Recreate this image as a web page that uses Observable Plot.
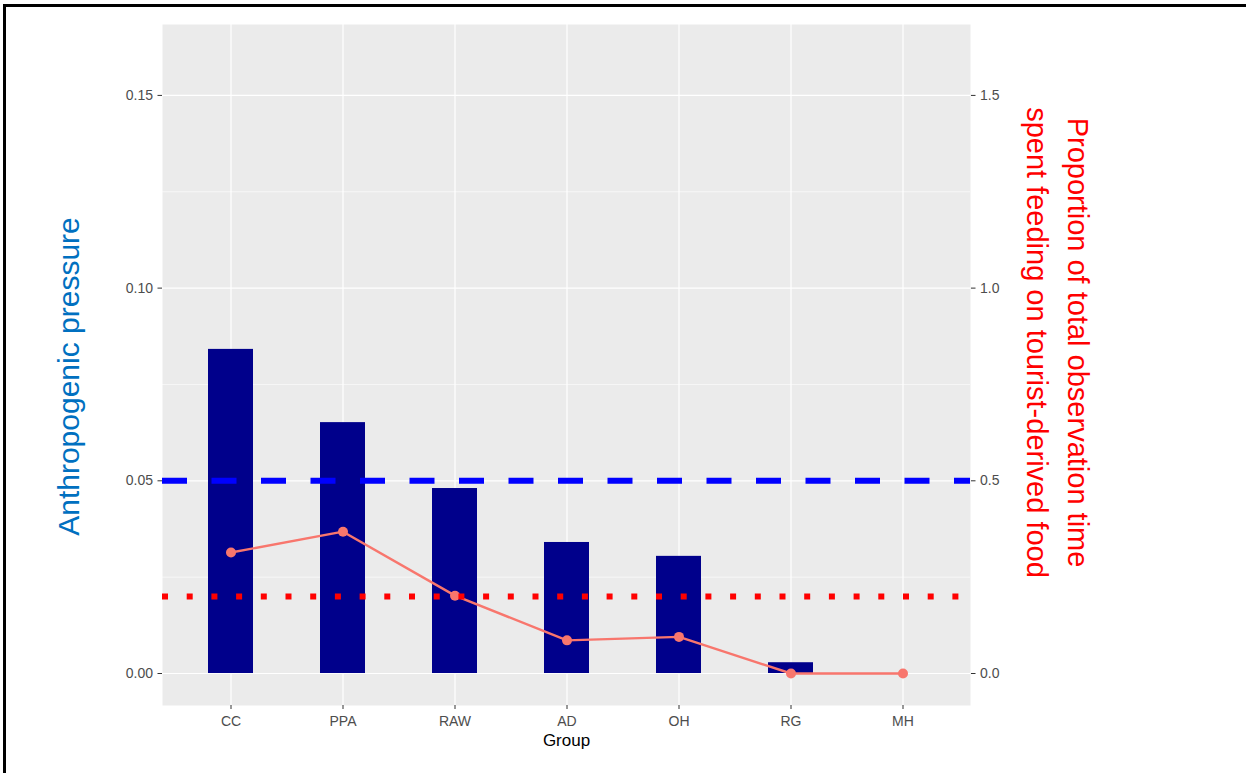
<!DOCTYPE html>
<html>
<head>
<meta charset="utf-8">
<script src="https://cdn.jsdelivr.net/npm/d3@7"></script>
<script src="https://cdn.jsdelivr.net/npm/@observablehq/plot@0.6"></script>
<style>
  html, body { margin: 0; padding: 0; background: white; overflow: hidden; }
  #wrap { position: relative; width: 1246px; height: 773px; }
  #wrap svg { position: absolute; left: 0; top: 0; }
  .frame-line { position: absolute; background: black; }
</style>
</head>
<body>
<div id="wrap"></div>
<script>
// ---- data ----
const groups = ["CC", "PPA", "RAW", "AD", "OH", "RG", "MH"];
const pressure = [0.0841, 0.0651, 0.0480, 0.0340, 0.0304, 0.0028, 0.0];      // left axis
const proportion = [0.314, 0.368, 0.202, 0.086, 0.095, 0.0, 0.0];           // right axis
const pressureThreshold = 0.05;
const proportionThreshold = 0.2;
const leftTicks = [0, 0.05, 0.10, 0.15];
const minorTicks = [0.025, 0.075, 0.125];
const axisRatio = 10; // right axis = left axis * 10
const leftTitle = "Anthropogenic pressure";
const rightTitle = "Proportion of total observation time\nspent feeding on tourist-derived food";
const xTitle = "Group";

const rows = groups.map((g, i) => ({group: g, pressure: pressure[i], proportion: proportion[i] / axisRatio}));

const font = "'Liberation Sans', Arial, sans-serif";

const chart = Plot.plot({
  width: 1246,
  height: 773,
  marginLeft: 162,
  marginRight: 276,
  marginTop: 24,
  marginBottom: 68,
  style: {background: "transparent", fontFamily: font, fontSize: "14px"},
  x: {type: "band", domain: groups, paddingInner: 0.6, paddingOuter: 0.4, axis: null},
  y: {domain: [-0.0083, 0.1684], axis: null},
  marks: [
    Plot.frame({fill: "#EBEBEB", stroke: "none"}),
    Plot.ruleY(minorTicks, {stroke: "white", strokeWidth: 0.6}),
    Plot.ruleY(leftTicks, {stroke: "white", strokeWidth: 1.2}),
    Plot.gridX({stroke: "white", strokeOpacity: 1, strokeWidth: 1.2}),
    Plot.barY(rows, {x: "group", y: "pressure", fill: "#00008B"}),
    Plot.line(rows, {x: "group", y: "proportion", stroke: "#F8766D", strokeWidth: 2.4}),
    Plot.dot(rows, {x: "group", y: "proportion", fill: "#F8766D", r: 5}),
    Plot.ruleY([proportionThreshold / axisRatio], {stroke: "#FF0000", strokeWidth: 6, strokeDasharray: "6,18.7"}),
    Plot.ruleY([pressureThreshold], {stroke: "#0000FF", strokeWidth: 6, strokeDasharray: "25,24.5"}),
    Plot.axisY(leftTicks, {anchor: "left", tickFormat: d3.format(".2f"), tickSize: 4.5, tickPadding: 5, stroke: "#333333", fill: "#4D4D4D", label: null, fontSize: 14}),
    Plot.axisY(leftTicks, {anchor: "right", tickFormat: d => (d * axisRatio).toFixed(1), tickSize: 4.5, tickPadding: 5, stroke: "#333333", fill: "#4D4D4D", label: null, fontSize: 14}),
    Plot.axisX({anchor: "bottom", tickSize: 4, tickPadding: 7, stroke: "#333333", fill: "#4D4D4D", label: null, fontSize: 14}),
    Plot.text([xTitle], {frameAnchor: "bottom", dy: 35, lineAnchor: "middle", textAnchor: "middle", fill: "black", fontSize: 17}),
    Plot.text([leftTitle], {frameAnchor: "left", dx: -93, dy: 11.5, rotate: -90, textAnchor: "middle", lineAnchor: "middle", fill: "#0070C0", fontSize: 30}),
    Plot.text([rightTitle], {frameAnchor: "right", dx: 90, dy: -22.5, rotate: 90, textAnchor: "middle", lineAnchor: "middle", fill: "#FF0000", fontSize: 29, lineHeight: 1.41})
  ]
});

const wrap = document.getElementById("wrap");
wrap.appendChild(chart);
const topLine = document.createElement("div");
topLine.className = "frame-line";
Object.assign(topLine.style, {left: "3px", top: "4px", width: "1243px", height: "3px"});
const leftLine = document.createElement("div");
leftLine.className = "frame-line";
Object.assign(leftLine.style, {left: "3px", top: "4px", width: "3px", height: "769px"});
wrap.appendChild(topLine);
wrap.appendChild(leftLine);
</script>
</body>
</html>
